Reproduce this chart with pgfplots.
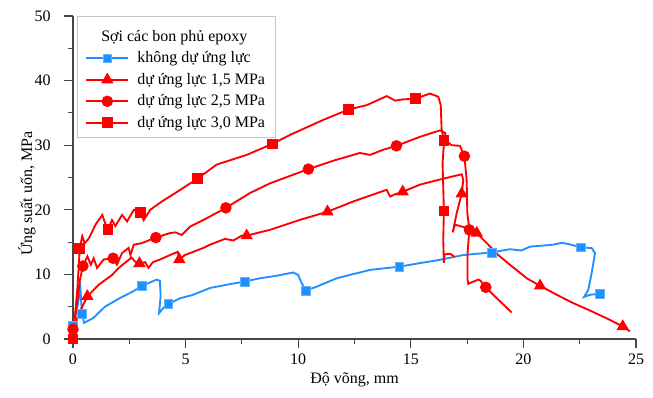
\documentclass[border=0pt]{standalone}
\usepackage{fontspec}
\setmainfont{Liberation Serif}
\usepackage{pgfplots}
\pgfplotsset{compat=1.18}
\definecolor{cblue}{RGB}{30,144,255}
\definecolor{cred}{RGB}{255,0,0}
\definecolor{axgray}{RGB}{70,70,70}
\begin{document}
\fontsize{12}{14}\selectfont
\begin{tikzpicture}
\begin{axis}[
  scale only axis, width=422.25pt, height=242.25pt,
  xmin=0, xmax=25, ymin=0, ymax=50,
  axis x line*=bottom, axis y line*=left,
  axis line style={axgray, line width=0.8pt},
  xtick={0,5,...,25}, ytick={0,10,...,50},
  minor x tick num=1, minor y tick num=1,
  tick align=outside,
  major tick length=7pt, minor tick length=3.5pt,
  every tick/.style={axgray, line width=0.8pt},
  /pgf/number format/assume math mode=true,
  ticklabel style={font=\fontsize{12}{14}\selectfont},
  yticklabel style={xshift=-5.5pt},
  xlabel={Độ võng, mm}, ylabel={Ứng suất uốn, MPa},
  label style={font=\fontsize{12}{14}\selectfont},
  x label style={at={(axis description cs:0.5,-0.127)}, anchor=center},
  y label style={at={(axis description cs:-0.0817,0.45)}, anchor=center, rotate=0},
  clip=false,
  legend style={at={(axis description cs:0,1)}, anchor=north west, xshift=3pt,
    draw=gray!45, line width=0.6pt, font=\fontsize{12}{14}\selectfont,
    inner xsep=6pt, inner ysep=4pt, row sep=2pt, column sep=4pt},
  legend cell align=left,
  legend image code/.code={\draw[line width=1.4pt, mark indices={2}] plot coordinates {(0pt,0pt) (15.75pt,0pt) (31.5pt,0pt)};},
]
\addlegendimage{empty legend}
\addlegendentry{\hspace*{-27pt}\rule{0pt}{12.5pt}Sợi các bon phủ epoxy}

\addplot[cblue, line width=1.4pt, mark=square*, mark size=3.3pt, mark options={solid, fill=cblue, draw=cblue!70!white, line width=0.5pt},
  mark indices={1,5,11,17,22,28,32,36,43,50}] coordinates {
(0,2) (0.2,5) (0.33,7.9) (0.36,6) (0.4,3.9) (0.49,2.5) (0.9,3.25) (1.42,5.0) (2.01,6.2) (2.68,7.4)
(3.05,8.2) (3.72,9.2) (3.86,9.0) (3.89,6.6) (3.82,4.0) (4.01,4.8) (4.23,5.4) (4.75,6.3) (5.34,6.85) (6.08,7.9)
(6.83,8.4) (7.62,8.9) (8.3,9.4) (9.05,9.8) (9.78,10.3) (10.0,9.9) (10.15,8.66) (10.35,7.5) (10.82,8.1) (11.71,9.4)
(13.19,10.7) (14.49,11.2) (15.41,11.75) (16.3,12.26) (17.33,13.0) (18.59,13.4) (19.4,13.9) (19.9,13.7) (20.3,14.3) (21.33,14.6)
(21.7,14.9) (22.0,14.7) (22.54,14.2) (23.03,14.07) (23.18,13.3) (23.03,10.2) (22.88,7.6) (22.69,6.5) (22.96,6.85) (23.4,7.0)
};
\addlegendentry{không dự ứng lực}

\addplot[cred, line width=1.4pt, mark=triangle*, mark size=4pt, mark options={solid, fill=cred, draw=cred},
  mark indices={3,10,17,24,27,32,37,42,47,52}] coordinates {
(0,0.3) (0.2,3.5) (0.64,6.6) (1.14,8.4) (1.73,9.9) (2.03,11.0) (2.38,12.0) (2.6,12.6) (2.75,12.0) (2.95,11.7)
(3.2,11.9) (3.35,11.0) (3.55,11.9) (3.86,12.3) (4.31,13.0) (4.65,13.5) (4.72,12.3) (4.97,13.0) (5.79,14.1) (6.08,14.6)
(6.75,15.5) (7.12,15.25) (7.49,16.0) (7.71,16.0) (8.75,16.9) (10.08,18.45) (11.3,19.7) (12.45,21.3) (13.93,23.1) (14.08,22.05)
(14.3,22.4) (14.64,22.8) (15.41,23.9) (16.3,24.7) (17.26,25.5) (17.33,24.6) (17.26,22.5) (17.04,19.5) (16.86,16.5) (16.96,17.7)
(17.48,17.2) (17.93,16.4) (18.44,14.6) (18.88,13.0) (19.4,11.5) (20.15,9.4) (20.74,8.24) (21.48,6.85) (22.2,5.57) (22.96,4.4)
(23.7,3.2) (24.41,1.95) (24.73,1.2)
};
\addlegendentry{dự ứng lực 1,5 MPa}

\addplot[cred, line width=1.4pt, mark=*, mark size=3.6pt, mark options={solid, fill=cred, draw=cred},
  mark indices={1,4,10,17,23,26,31,38,41,47}] coordinates {
(0,1.5) (0.2,6) (0.3,9) (0.44,11.3) (0.64,12.8) (0.79,11.5) (0.92,12.5) (1.07,11.0) (1.36,12.3) (1.78,12.5)
(1.95,11.5) (2.18,13.3) (2.47,14.1) (2.55,13.0) (2.7,14.6) (3.06,14.85) (3.68,15.7) (4.31,16.4) (4.55,16.5) (4.83,16.1)
(5.2,17.4) (5.94,18.7) (6.79,20.3) (7.86,22.6) (8.75,24.1) (10.45,26.3) (11.56,27.6) (12.74,28.8) (13.19,28.5) (13.78,29.3)
(14.36,29.9) (15.41,31.3) (16.3,32.3) (16.52,31.9) (16.59,30.6) (16.82,30.0) (17.18,29.9) (17.38,28.3) (17.48,24.6) (17.51,19.5)
(17.6,16.9) (17.52,13.3) (17.52,9.2) (17.55,8.55) (18.0,9.2) (18.1,9.0) (18.33,8.0) (18.81,6.34) (19.48,4.1)
};
\addlegendentry{dự ứng lực 2,5 MPa}

\addplot[cred, line width=1.4pt, mark=square*, mark size=3.3pt, mark options={solid, fill=cred, draw=cred},
  mark indices={1,3,10,16,21,24,27,32,37,39}] coordinates {
(0,0) (0.2,8) (0.3,14.0) (0.41,15.9) (0.52,14.8) (0.71,15.6) (1.0,17.7) (1.3,19.2) (1.42,18.0) (1.55,17.0)
(1.73,18.4) (1.88,17.5) (2.18,19.2) (2.4,18.2) (2.7,20.0) (2.99,19.6) (3.14,18.4) (3.43,20.0) (3.95,21.3) (4.5,22.5)
(5.52,24.8) (6.38,27.0) (7.71,28.5) (8.85,30.2) (9.64,31.6) (11.1,33.9) (12.22,35.5) (13.04,36.2) (13.93,37.6) (14.3,36.9)
(14.67,37.1) (15.22,37.2) (15.85,38.0) (16.22,37.5) (16.33,36.2) (16.37,32.4) (16.48,30.7) (16.41,27.2) (16.47,19.8) (16.44,15.4)
(16.47,11.8) (16.5,13.1) (16.75,13.2) (16.95,12.7)
};
\addlegendentry{dự ứng lực 3,0 MPa}
\end{axis}
\pgfresetboundingbox
\path[use as bounding box] ([xshift=-54.75pt,yshift=-43.5pt]current axis.south west) rectangle ([xshift=12.75pt,yshift=12pt]current axis.north east);
\end{tikzpicture}
\end{document}
